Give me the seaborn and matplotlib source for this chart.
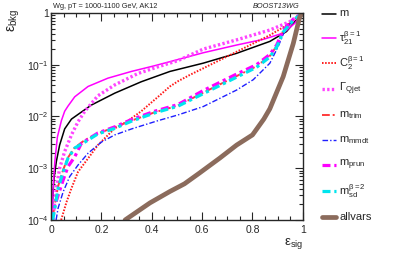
import numpy as np
import pandas as pd
import matplotlib
matplotlib.use("Agg")
import matplotlib.pyplot as plt
import matplotlib.ticker as mticker
from matplotlib.lines import Line2D
import seaborn as sns

# background efficiency vs signal efficiency
m_x = [0.004, 0.007, 0.012, 0.021, 0.034, 0.054, 0.081, 0.11, 0.16, 0.253, 0.358, 0.472, 0.604, 0.737, 0.869, 0.935, 0.968, 1.0]
m_y = [1.0e-4, 3.0e-4, 6.5e-4, 1.35e-3, 2.8e-3, 5.75e-3, 8.9e-3, 0.0112, 0.0166, 0.0282, 0.0468, 0.0741, 0.107, 0.166, 0.282, 0.437, 0.676, 1.0]

tau_x = [0.004, 0.008, 0.015, 0.025, 0.041, 0.054, 0.067, 0.094, 0.147, 0.226, 0.319, 0.411, 0.504, 0.604, 0.737, 0.843, 0.922, 0.968, 1.0]
tau_y = [1.0e-4, 4.1e-4, 1.35e-3, 3.98e-3, 8.3e-3, 0.0126, 0.0158, 0.024, 0.038, 0.055, 0.0741, 0.0955, 0.126, 0.17, 0.24, 0.309, 0.407, 0.631, 1.0]

c2_x = [0.04, 0.061, 0.081, 0.107, 0.147, 0.186, 0.253, 0.3, 0.358, 0.425, 0.472, 0.504, 0.55, 0.604, 0.737, 0.869, 0.948, 1.0]
c2_y = [1.0e-4, 2.2e-4, 4.1e-4, 8.5e-4, 1.55e-3, 2.8e-3, 5.9e-3, 7.9e-3, 0.0126, 0.024, 0.038, 0.0479, 0.0631, 0.085, 0.178, 0.372, 0.631, 1.0]

qjet_x = [0.008, 0.012, 0.021, 0.034, 0.054, 0.081, 0.107, 0.134, 0.186, 0.253, 0.345, 0.425, 0.504, 0.604, 0.737, 0.869, 0.948, 1.0]
qjet_y = [1.0e-4, 1.7e-4, 4.1e-4, 1.0e-3, 2.1e-3, 4.4e-3, 7.9e-3, 0.0126, 0.0251, 0.0407, 0.0676, 0.0912, 0.12, 0.2, 0.302, 0.468, 0.676, 1.0]

trim_x = [0.006, 0.015, 0.028, 0.048, 0.067, 0.094, 0.134, 0.186, 0.253, 0.319, 0.411, 0.504, 0.604, 0.737, 0.816, 0.869, 0.896, 0.922, 0.962, 1.0]
trim_y = [1.1e-4, 2.0e-4, 4.5e-4, 9.3e-4, 1.6e-3, 2.5e-3, 3.5e-3, 4.7e-3, 6.2e-3, 8.3e-3, 0.012, 0.0162, 0.0288, 0.0603, 0.0933, 0.148, 0.229, 0.447, 0.741, 1.0]

mmdt_x = [0.02, 0.028, 0.048, 0.074, 0.107, 0.147, 0.2, 0.253, 0.32, 0.425, 0.504, 0.604, 0.737, 0.803, 0.869, 0.902, 0.929, 0.968, 1.0]
mmdt_y = [1.0e-4, 1.7e-4, 3.5e-4, 6.9e-4, 1.15e-3, 1.95e-3, 3.2e-3, 4.4e-3, 5.75e-3, 8.3e-3, 0.0107, 0.0155, 0.0324, 0.0513, 0.107, 0.224, 0.468, 0.794, 1.0]

prun_x = [0.005, 0.008, 0.028, 0.048, 0.067, 0.094, 0.12, 0.186, 0.253, 0.319, 0.411, 0.504, 0.604, 0.737, 0.816, 0.869, 0.896, 0.922, 0.962, 1.0]
prun_y = [1.0e-4, 1.45e-4, 3.0e-4, 5.9e-4, 1.07e-3, 1.66e-3, 3.0e-3, 4.8e-3, 6.3e-3, 8.7e-3, 0.0126, 0.017, 0.0316, 0.066, 0.1, 0.158, 0.24, 0.468, 0.76, 1.0]

sd_x = [0.006, 0.015, 0.028, 0.048, 0.067, 0.094, 0.134, 0.186, 0.253, 0.319, 0.411, 0.504, 0.604, 0.737, 0.816, 0.869, 0.896, 0.922, 0.962, 1.0]
sd_y = [1.0e-4, 1.7e-4, 4.1e-4, 8.5e-4, 1.55e-3, 2.45e-3, 3.2e-3, 4.6e-3, 5.9e-3, 8.1e-3, 0.0117, 0.0158, 0.0275, 0.0575, 0.0891, 0.141, 0.219, 0.427, 0.724, 1.0]

all_x = [0.294, 0.345, 0.393, 0.472, 0.53, 0.59, 0.671, 0.737, 0.80, 0.845, 0.869, 0.922, 0.962, 0.988, 1.0]
all_y = [1.0e-4, 1.48e-4, 2.14e-4, 3.55e-4, 5.0e-4, 8.1e-4, 1.58e-3, 2.8e-3, 4.4e-3, 8.9e-3, 0.0141, 0.0589, 0.257, 0.851, 1.0]

labels = ["m", r"$\tau_{21}^{\beta=1}$", r"$C_{2}^{\beta=1}$", r"$\Gamma_{Qjet}$",
          r"$m_{trim}$", r"$m_{mmdt}$", r"$m_{prun}$", r"$m_{sd}^{\beta=2}$", "allvars"]

# (x, y, colour, width, linestyle) in legend order
series = [
    (m_x, m_y, "black", 1.1, "-"),
    (tau_x, tau_y, "#ff00ff", 1.1, "-"),
    (c2_x, c2_y, "#ff1a1a", 1.4, (0, (0.8, 0.8))),
    (qjet_x, qjet_y, "#ff44ff", 2.4, (0, (0.7, 0.7))),
    (trim_x, trim_y, "#ff3b3b", 1.4, (0, (4, 1.5, 1, 1.5))),
    (mmdt_x, mmdt_y, "#1f1fff", 1.0, (0, (4, 1.5, 1, 1.5))),
    (prun_x, prun_y, "#ff00ff", 2.3, (0, (2.5, 1.2, 1, 1.2))),
    (sd_x, sd_y, "#00e5ee", 2.3, (0, (2.5, 1.2, 1, 1.2))),
    (all_x, all_y, "#8b6b5c", 3.4, "-"),
]

sns.set_theme(style="ticks")
plt.rcParams["font.family"] = ["Liberation Sans", "DejaVu Sans"]
plt.rcParams["mathtext.fontset"] = "custom"
plt.rcParams["mathtext.rm"] = "Liberation Sans"
plt.rcParams["mathtext.it"] = "Liberation Sans:italic"
plt.rcParams["mathtext.default"] = "regular"

fig = plt.figure(figsize=(3.99, 2.54), dpi=100)
ax = fig.add_axes([0.128, 0.134, 0.631, 0.815])

for (xs, ys, col, lw, ls), lab in zip(series, labels):
    df = pd.DataFrame({"eff_sig": xs, "eff_bkg": ys})
    sns.lineplot(data=df, x="eff_sig", y="eff_bkg", ax=ax, color=col,
                 lw=lw, linestyle=ls, sort=False, estimator=None, label=lab)
ax.get_legend().remove()

ax.set_yscale("log")
ax.set_xlim(0, 1)
ax.set_ylim(1e-4, 1)
ax.set_xlabel("")
ax.set_ylabel("")
ax.xaxis.set_major_locator(mticker.MultipleLocator(0.2))
ax.xaxis.set_minor_locator(mticker.MultipleLocator(0.05))
ax.xaxis.set_major_formatter(mticker.FuncFormatter(lambda v, p: f"{v:g}"))
ax.yaxis.set_major_formatter(mticker.FuncFormatter(
    lambda v, p: "1" if abs(v - 1) < 1e-9 else rf"$10^{{{int(round(np.log10(v)))}}}$"))
ax.tick_params(which="both", direction="in", top=True, right=True,
               width=0.8, labelsize=7.5)
ax.tick_params(which="major", length=5.5)
ax.tick_params(which="minor", length=3)
ax.tick_params(axis="x", pad=3.5)
ax.tick_params(axis="y", pad=1.5)
for sp in ax.spines.values():
    sp.set_linewidth(1.0)

# axis titles, ROOT style
fig.text(0.035, 1 - 9 / 254, "ε$_{bkg}$", rotation=90, ha="center", va="top", fontsize=10)
fig.text(303 / 399, 3 / 254, "ε$_{sig}$", ha="right", va="bottom", fontsize=9.5)
fig.text(53 / 399, 1 - 6 / 254, "Wg, pT = 1000-1100 GeV, AK12", ha="left", va="center", fontsize=5.3)
fig.text(300 / 399, 1 - 6 / 254, "BOOST13WG", ha="right", va="center", fontsize=5.3, style="italic")

# legend drawn by hand so entries keep the even ROOT spacing
leg_y = [13.5, 38, 63, 89, 115, 140, 165, 191, 216.5]
for (xs, ys, col, lw, ls), lab, ypx in zip(series, labels, leg_y):
    yf = 1 - ypx / 254
    fig.add_artist(Line2D([322 / 399, 336 / 399], [yf, yf], transform=fig.transFigure,
                          color=col, lw=lw, linestyle=ls))
    fig.text(339 / 399, yf, lab, ha="left", va="center", fontsize=8)

fig.savefig("out.png", dpi=100)
